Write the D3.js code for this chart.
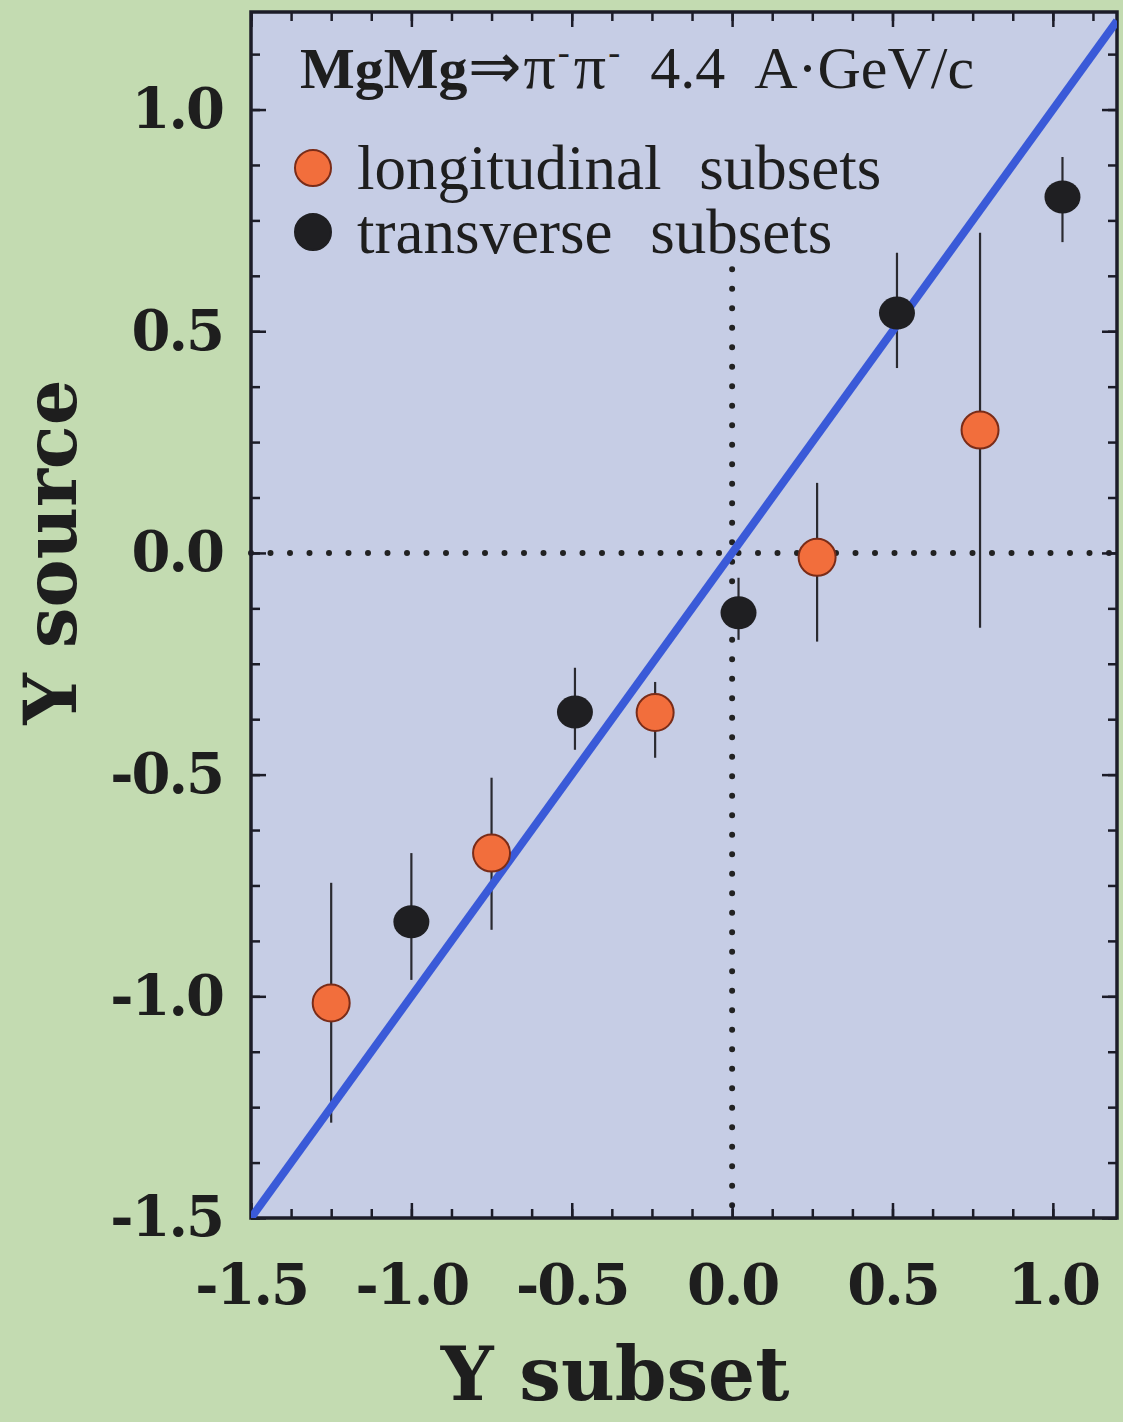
<!DOCTYPE html>
<html>
<head>
<meta charset="utf-8">
<script src="https://cdn.jsdelivr.net/npm/d3@7"></script>
<style>
  html, body { margin: 0; padding: 0; background: #c3dbb1; }
  svg { display: block; }
</style>
</head>
<body>
<svg id="chart" width="1123" height="1422"></svg>
<script>
// ---- data ----
const longX    = [-1.25, -0.75, -0.24, 0.265, 0.773];
const longY    = [-1.015, -0.677, -0.36, -0.01, 0.277];
const longLo   = [-1.285, -0.85, -0.462, -0.20, -0.169];
const longHi   = [-0.744, -0.507, -0.291, 0.158, 0.722];

const transX   = [-1.0, -0.49, 0.02, 0.514, 1.03];
const transY   = [-0.832, -0.359, -0.135, 0.541, 0.803];
const transLo  = [-0.963, -0.444, -0.196, 0.417, 0.701];
const transHi  = [-0.677, -0.259, -0.056, 0.677, 0.893];

const lineX    = [-1.5, 1.2];
const lineY    = [-1.5, 1.2];

const xMajor   = [-1.5, -1.0, -0.5, 0.0, 0.5, 1.0];
const yMajor   = [-1.5, -1.0, -0.5, 0.0, 0.5, 1.0];
const xMinor   = d3.range(-1.5, 1.2001, 0.125);
const yMinor   = d3.range(-1.5, 1.2201, 0.125);

const legendLabels = ["longitudinal subsets", "transverse subsets"];

// ---- layout ----
const svg = d3.select("#chart");
const L = 251, R = 1117, T = 12, B = 1218;
const x = d3.scaleLinear().domain([-1.5, 1.2]).range([L, R]);
const y = d3.scaleLinear().domain([-1.5, 1.22]).range([B, T]);

svg.append("rect").attr("x", 0).attr("y", 0).attr("width", 1123).attr("height", 1422).attr("fill", "#c3dbb1");
svg.append("rect").attr("x", L).attr("y", T).attr("width", R - L).attr("height", B - T).attr("fill", "#c6cde5");

svg.append("clipPath").attr("id", "clip").append("rect")
  .attr("x", L).attr("y", T).attr("width", R - L).attr("height", B - T);

// dotted reference lines
svg.append("line").attr("x1", L).attr("x2", R).attr("y1", y(0)).attr("y2", y(0))
  .attr("stroke", "#222").attr("stroke-width", 6).attr("stroke-linecap", "round")
  .attr("stroke-dasharray", "0 19.5");
svg.append("line").attr("x1", x(0)).attr("x2", x(0)).attr("y1", y(0.64)).attr("y2", B)
  .attr("stroke", "#222").attr("stroke-width", 6).attr("stroke-linecap", "round")
  .attr("stroke-dasharray", "0 19.5");

const fmt = v => d3.format(".1f")(v).replace("\u2212", "-");
const tickFont = "'DejaVu Serif', serif";

function styleAxis(g) {
  g.select(".domain").remove();
  g.selectAll("line").attr("stroke", "#1c1c28").attr("stroke-width", 2.5);
  g.selectAll("text").attr("font-family", tickFont).attr("font-weight", "bold")
    .attr("font-size", 56).attr("letter-spacing", -2).attr("fill", "#1e1e1e");
}

// bottom
svg.append("g").attr("transform", `translate(0,${B})`)
  .call(d3.axisBottom(x).tickValues(xMinor).tickSize(-9).tickFormat("")).call(styleAxis);
svg.append("g").attr("transform", `translate(0,${B})`)
  .call(d3.axisBottom(x).tickValues(xMajor).tickSize(-15).tickPadding(46).tickFormat(fmt)).call(styleAxis);
// top
svg.append("g").attr("transform", `translate(0,${T})`)
  .call(d3.axisTop(x).tickValues(xMinor).tickSize(-9).tickFormat("")).call(styleAxis);
svg.append("g").attr("transform", `translate(0,${T})`)
  .call(d3.axisTop(x).tickValues(xMajor).tickSize(-15).tickFormat("")).call(styleAxis);
// left
svg.append("g").attr("transform", `translate(${L},0)`)
  .call(d3.axisLeft(y).tickValues(yMinor).tickSize(-9).tickFormat("")).call(styleAxis);
svg.append("g").attr("transform", `translate(${L},0)`)
  .call(d3.axisLeft(y).tickValues(yMajor).tickSize(-15).tickPadding(28).tickFormat(fmt)).call(styleAxis);
// right
svg.append("g").attr("transform", `translate(${R},0)`)
  .call(d3.axisRight(y).tickValues(yMinor).tickSize(-9).tickFormat("")).call(styleAxis);
svg.append("g").attr("transform", `translate(${R},0)`)
  .call(d3.axisRight(y).tickValues(yMajor).tickSize(-15).tickFormat("")).call(styleAxis);

// frame
svg.append("rect").attr("x", L).attr("y", T).attr("width", R - L).attr("height", B - T)
  .attr("fill", "none").attr("stroke", "#1c1c28").attr("stroke-width", 3.5);

// error bars
const longData = longX.map((v, i) => ({ x: v, y: longY[i], lo: longLo[i], hi: longHi[i] }));
const transData = transX.map((v, i) => ({ x: v, y: transY[i], lo: transLo[i], hi: transHi[i] }));

const plot = svg.append("g").attr("clip-path", "url(#clip)");
plot.selectAll(".errL").data(longData).join("line")
  .attr("x1", d => x(d.x)).attr("x2", d => x(d.x)).attr("y1", d => y(d.lo)).attr("y2", d => y(d.hi))
  .attr("stroke", "#2a2a30").attr("stroke-width", 2.2);
plot.selectAll(".errT").data(transData).join("line")
  .attr("x1", d => x(d.x)).attr("x2", d => x(d.x)).attr("y1", d => y(d.lo)).attr("y2", d => y(d.hi))
  .attr("stroke", "#2a2a30").attr("stroke-width", 2.2);

// blue line
plot.append("path")
  .attr("d", d3.line().x(d => x(d[0])).y(d => y(d[1]))(lineX.map((v, i) => [v, lineY[i]])))
  .attr("stroke", "#3a5ad8").attr("stroke-width", 8).attr("fill", "none");

// markers
plot.selectAll(".ptT").data(transData).join("ellipse")
  .attr("cx", d => x(d.x)).attr("cy", d => y(d.y)).attr("rx", 18).attr("ry", 16.5)
  .attr("fill", "#1f1f22");
plot.selectAll(".ptL").data(longData).join("circle")
  .attr("cx", d => x(d.x)).attr("cy", d => y(d.y)).attr("r", 18.5)
  .attr("fill", "#f26e3c").attr("stroke", "#7a2c18").attr("stroke-width", 2);

// title inside plot
const serif = "'Liberation Serif', 'Times New Roman', serif";
const title = svg.append("text").attr("x", 300).attr("y", 88)
  .attr("font-family", serif).attr("font-size", 58).attr("fill", "#1e1e1e");
title.append("tspan").attr("font-weight", "bold").text("MgMg");
title.append("tspan").attr("font-size", 64).text("⇒");
title.append("tspan").attr("dx", 2).attr("font-size", 64).text("π");
title.append("tspan").attr("dy", -24).attr("dx", 2).attr("font-size", 36).text("-");
title.append("tspan").attr("dy", 24).attr("dx", 4).attr("font-size", 64).text("π");
title.append("tspan").attr("dy", -24).attr("dx", 2).attr("font-size", 36).text("-");
title.append("tspan").attr("dy", 24).attr("dx", 30).attr("font-size", 60).attr("word-spacing", 14).text("4.4 A·GeV/c");

// legend
const legColors = [["#f26e3c", "#7a2c18"], ["#1f1f22", "#1f1f22"]];
const legY = [168, 232];
legendLabels.forEach((lab, i) => {
  svg.append("circle").attr("cx", 313).attr("cy", legY[i]).attr("r", 18)
    .attr("fill", legColors[i][0]).attr("stroke", legColors[i][1]).attr("stroke-width", 2);
  svg.append("text").attr("x", 357).attr("y", legY[i] + 21)
    .attr("font-family", serif).attr("font-size", 63).attr("word-spacing", 22)
    .attr("fill", "#1e1e1e").text(lab);
});

// axis titles
svg.append("text").attr("x", 615).attr("y", 1400).attr("text-anchor", "middle")
  .attr("font-family", tickFont).attr("font-weight", "bold").attr("font-size", 74)
  .attr("fill", "#1e1e1e").text("Y subset");
svg.append("text").attr("transform", "translate(76,552) rotate(-90)").attr("text-anchor", "middle")
  .attr("font-family", tickFont).attr("font-weight", "bold").attr("font-size", 72)
  .attr("fill", "#1e1e1e").text("Y source");
</script>
</body>
</html>
